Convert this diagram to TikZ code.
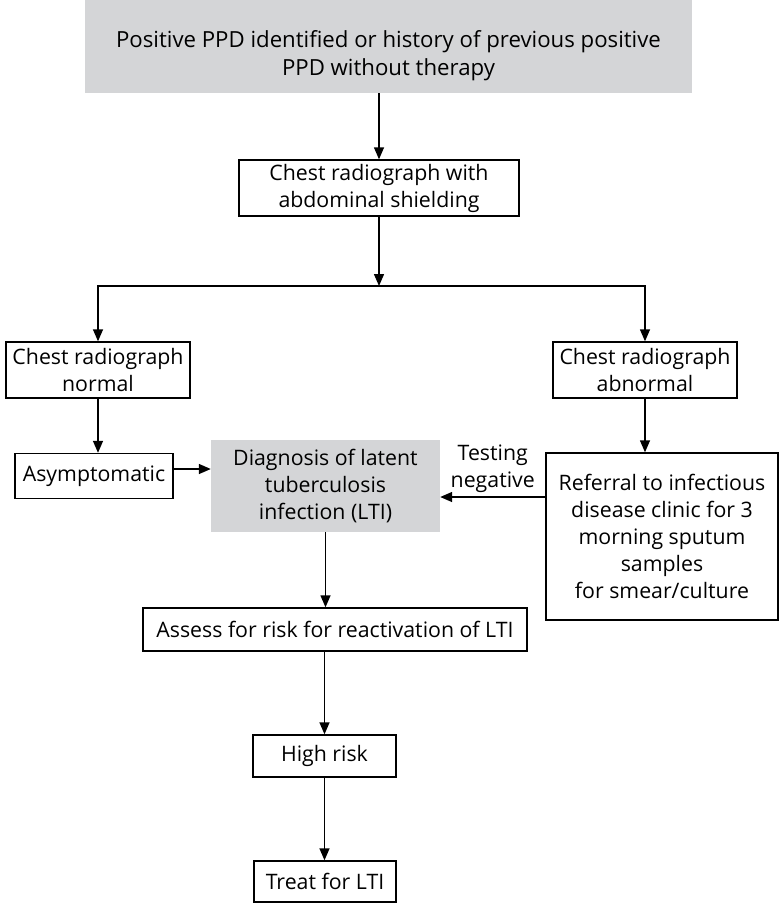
\documentclass[tikz,border=0pt]{standalone}
\usepackage{fontspec}
\setmainfont{Open Sans}
\usetikzlibrary{arrows.meta}
\definecolor{boxgray}{RGB}{212,213,215}
\begin{document}
\begin{tikzpicture}[x=1pt,y=-1pt,
  every node/.style={font=\fontsize{21.3}{27}\selectfont, inner sep=0pt},
  box/.style={draw, line width=1.4pt, align=center},
  graybox/.style={fill=boxgray, align=center},
  arr/.style={-{Triangle[length=12pt,width=10pt]}, line width=1.4pt},
  lbl/.style={align=center}]
\useasboundingbox (0,0) rectangle (779,903);

\node[graybox, minimum width=607pt, minimum height=93pt] (top) at (388.5,46.5) {};
\node[lbl, font=\fontsize{22.2}{28}\selectfont] (toptext) at (388.5,56) {Positive PPD identified or history of previous positive\\PPD without therapy};

\node[box, minimum width=280pt, minimum height=56pt] (xray) at (379,188) {Chest radiograph with\\abdominal shielding};
\coordinate (j) at (379,286);

\node[box, minimum width=184pt, minimum height=56pt] (normal) at (98,370) {Chest radiograph\\normal};
\node[box, minimum width=184pt, minimum height=56pt] (abnormal) at (645,370) {Chest radiograph\\abnormal};

\node[box, minimum width=158pt, minimum height=45pt] (asym) at (94,476) {Asymptomatic};
\node[graybox, minimum width=229pt, minimum height=92pt] (lti) at (325.5,486) {Diagnosis of latent\\tuberculosis\\infection (LTI)};
\node[box, minimum width=232pt, minimum height=167pt] (ref) at (662,536.5) {Referral to infectious\\disease clinic for 3\\morning sputum\\samples\\for smear/culture};

\node[box, minimum width=384pt, minimum height=43pt] (assess) at (335,629.5) {Assess for risk for reactivation of LTI};
\node[box, minimum width=143pt, minimum height=42pt] (high) at (324.5,756) {High risk};
\node[box, minimum width=142pt, minimum height=41pt] (treat) at (325,881.5) {Treat for LTI};

\draw[arr] (xray.north |- top.south) -- (xray.north);
\draw[arr] (xray.south) -- (j);
\draw[arr] (j) -| (normal.north);
\draw[arr] (j) -| (abnormal.north);
\draw[arr] (normal.south) -- (normal.south |- asym.north);
\draw[arr] (abnormal.south) -- (abnormal.south |- ref.north);
\draw[arr] ([yshift=7pt]asym.east) -- ([yshift=7pt]asym.east -| lti.west);
\draw[arr] ([yshift=39.5pt]ref.west) -- ([yshift=39.5pt]ref.west -| lti.east)
  node[lbl, midway, above=4pt] (testneg) {Testing\\negative};
\draw[arr] (lti.south) -- (lti.south |- assess.north);
\draw[arr] (high.north |- assess.south) -- (high.north);
\draw[arr] (high.south) -- (high.south |- treat.north);
\end{tikzpicture}
\end{document}
